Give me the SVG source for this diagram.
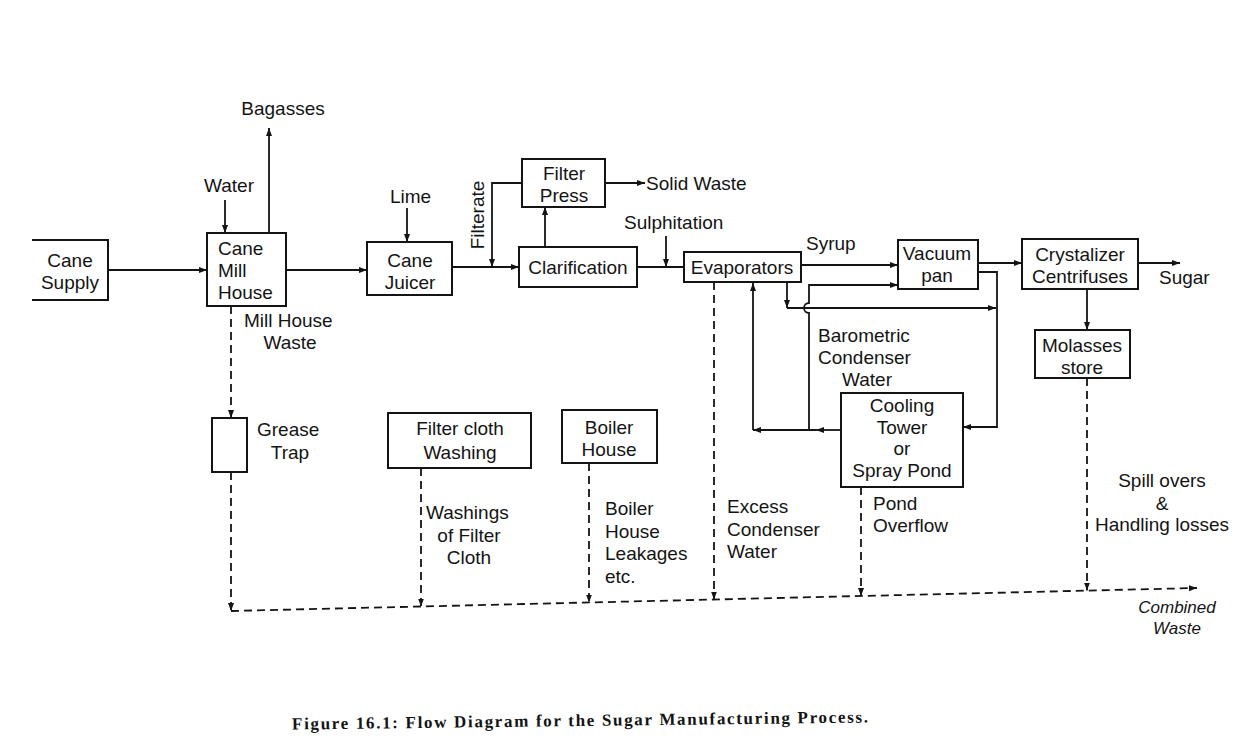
<svg xmlns="http://www.w3.org/2000/svg" width="1259" height="754" viewBox="0 0 1259 754">
<style>
.t{font-family:"Liberation Sans",Arial,sans-serif;font-size:19px;fill:#141414}
.c{text-anchor:middle}
.b{fill:none;stroke:#141414;stroke-width:2}
.l{fill:none;stroke:#141414;stroke-width:1.8}
.d{fill:none;stroke:#141414;stroke-width:1.8;stroke-dasharray:8 5}
.cap{font-family:"Liberation Serif","Times New Roman",serif;font-weight:bold;font-size:17px;fill:#141414}
</style>
<defs>
<marker id="ah" markerWidth="9" markerHeight="7" refX="8" refY="3.5" orient="auto" markerUnits="userSpaceOnUse">
<path d="M0,0.5 L8,3.5 L0,6.5 z" fill="#141414"/>
</marker>
</defs>
<rect width="1259" height="754" fill="#ffffff"/>

<g id="connectors">
<path class="l" d="M108,270 H207" marker-end="url(#ah)"/>
<path class="l" d="M286,270 H367" marker-end="url(#ah)"/>
<path class="l" d="M452,267 H519" marker-end="url(#ah)"/>
<path class="l" d="M637,267 H684"/>
<path class="l" d="M801,265 H898" marker-end="url(#ah)"/>
<path class="l" d="M978,263 H1022" marker-end="url(#ah)"/>
<path class="l" d="M1138,263 H1180" marker-end="url(#ah)"/>
<path class="l" d="M225,200 V233" marker-end="url(#ah)"/>
<path class="l" d="M269,233 V128" marker-end="url(#ah)"/>
<path class="l" d="M407,208 V242" marker-end="url(#ah)"/>
<path class="l" d="M545,247 V207" marker-end="url(#ah)"/>
<path class="l" d="M605,183 H645" marker-end="url(#ah)"/>
<path class="l" d="M522,183 H492 V267" marker-end="url(#ah)"/>
<path class="l" d="M666,236 V267" marker-end="url(#ah)"/>
<path class="l" d="M1087,289 V330" marker-end="url(#ah)"/>
<path class="l" d="M787,282 V308" marker-end="url(#ah)"/>
<path class="l" d="M787,308 H996" marker-end="url(#ah)"/>
<path class="l" d="M978,272 H997 V427 H963" marker-end="url(#ah)"/>
<path class="l" d="M809,430 V313 A5,5 0 0 1 809,303 V285 H898" marker-end="url(#ah)"/>
<path class="l" d="M841,430 H816" marker-end="url(#ah)"/>
<path class="l" d="M816,430 H753" marker-end="url(#ah)"/>
<path class="l" d="M753,430 V283" marker-end="url(#ah)"/>
<path class="d" d="M231,306 V418" marker-end="url(#ah)"/>
<path class="d" d="M231,472 V611" marker-end="url(#ah)"/>
<path class="d" d="M421,468 V606.5" marker-end="url(#ah)"/>
<path class="d" d="M589,463 V602.5" marker-end="url(#ah)"/>
<path class="d" d="M714,282 V599.5" marker-end="url(#ah)"/>
<path class="d" d="M861,487 V596" marker-end="url(#ah)"/>
<path class="d" d="M1087,378 V590.6" marker-end="url(#ah)"/>
<path class="d" d="M231,611 L1197,588" marker-end="url(#ah)"/>
</g>

<g id="cane-supply">
<path class="b" d="M32,240 H108 V300 H32"/>
<text class="t c" x="70" y="267">Cane</text>
<text class="t c" x="70" y="289">Supply</text>
</g>
<g id="cane-mill-house">
<rect class="b" x="207" y="233" width="79" height="73"/>
<text class="t" x="218" y="255">Cane</text>
<text class="t" x="218" y="277">Mill</text>
<text class="t" x="218" y="299">House</text>
</g>
<g id="cane-juicer">
<rect class="b" x="367" y="242" width="85" height="53"/>
<text class="t c" x="410" y="267">Cane</text>
<text class="t c" x="410" y="289">Juicer</text>
</g>
<g id="clarification">
<rect class="b" x="519" y="247" width="118" height="40"/>
<text class="t c" x="578" y="274">Clarification</text>
</g>
<g id="filter-press">
<rect class="b" x="522" y="159" width="83" height="48"/>
<text class="t c" x="564" y="180">Filter</text>
<text class="t c" x="564" y="202">Press</text>
</g>
<g id="evaporators">
<rect class="b" x="684" y="252" width="117" height="30"/>
<text class="t c" x="742" y="274">Evaporators</text>
</g>
<g id="vacuum-pan">
<rect class="b" x="898" y="240" width="80" height="49"/>
<text class="t c" x="937" y="260">Vacuum</text>
<text class="t c" x="937" y="282">pan</text>
</g>
<g id="crystalizer">
<rect class="b" x="1022" y="239" width="116" height="50"/>
<text class="t c" x="1080" y="261">Crystalizer</text>
<text class="t c" x="1080" y="283">Centrifuses</text>
</g>
<g id="molasses-store">
<rect class="b" x="1035" y="330" width="95" height="48"/>
<text class="t c" x="1082" y="352">Molasses</text>
<text class="t c" x="1082" y="374">store</text>
</g>
<g id="cooling-tower">
<rect class="b" x="841" y="393" width="122" height="94"/>
<text class="t c" x="902" y="412">Cooling</text>
<text class="t c" x="902" y="434">Tower</text>
<text class="t c" x="902" y="455">or</text>
<text class="t c" x="902" y="477">Spray Pond</text>
</g>
<g id="grease-trap">
<rect class="b" x="212" y="418" width="35" height="54"/>
<text class="t" x="257" y="436">Grease</text>
<text class="t c" x="290" y="459">Trap</text>
</g>
<g id="filter-cloth-washing">
<rect class="b" x="388" y="413" width="143" height="55"/>
<text class="t c" x="460" y="435">Filter cloth</text>
<text class="t c" x="460" y="459">Washing</text>
</g>
<g id="boiler-house">
<rect class="b" x="562" y="410" width="95" height="53"/>
<text class="t c" x="609" y="434">Boiler</text>
<text class="t c" x="609" y="456">House</text>
</g>

<g id="labels">
<text class="t c" x="283" y="115">Bagasses</text>
<text class="t" x="204" y="192">Water</text>
<text class="t" x="390" y="203">Lime</text>
<text class="t" x="244" y="327">Mill House</text>
<text class="t c" x="290" y="349">Waste</text>
<text class="t c" transform="translate(484,215) rotate(-90)">Filterate</text>
<text class="t" x="646" y="190">Solid Waste</text>
<text class="t" x="624" y="229">Sulphitation</text>
<text class="t" x="806" y="250">Syrup</text>
<text class="t" x="1159" y="284">Sugar</text>
<text class="t" x="818" y="342">Barometric</text>
<text class="t" x="818" y="364">Condenser</text>
<text class="t" x="842" y="386">Water</text>
<text class="t" x="426" y="519">Washings</text>
<text class="t c" x="469" y="542">of Filter</text>
<text class="t c" x="469" y="564">Cloth</text>
<text class="t" x="605" y="515">Boiler</text>
<text class="t" x="605" y="538">House</text>
<text class="t" x="605" y="560">Leakages</text>
<text class="t" x="605" y="583">etc.</text>
<text class="t" x="727" y="513">Excess</text>
<text class="t" x="727" y="536">Condenser</text>
<text class="t" x="727" y="558">Water</text>
<text class="t" x="873" y="510">Pond</text>
<text class="t" x="873" y="532">Overflow</text>
<text class="t c" x="1162" y="487">Spill overs</text>
<text class="t c" x="1162" y="510">&amp;</text>
<text class="t c" x="1162" y="531">Handling losses</text>
<text class="t c" x="1177" y="613" style="font-style:italic;font-size:17px">Combined</text>
<text class="t c" x="1177" y="634" style="font-style:italic;font-size:17px">Waste</text>
<text class="cap" x="292" y="726" textLength="576" lengthAdjust="spacing" transform="rotate(-0.7 580 721)">Figure 16.1: Flow Diagram for the Sugar Manufacturing Process.</text>
</g>
</svg>
